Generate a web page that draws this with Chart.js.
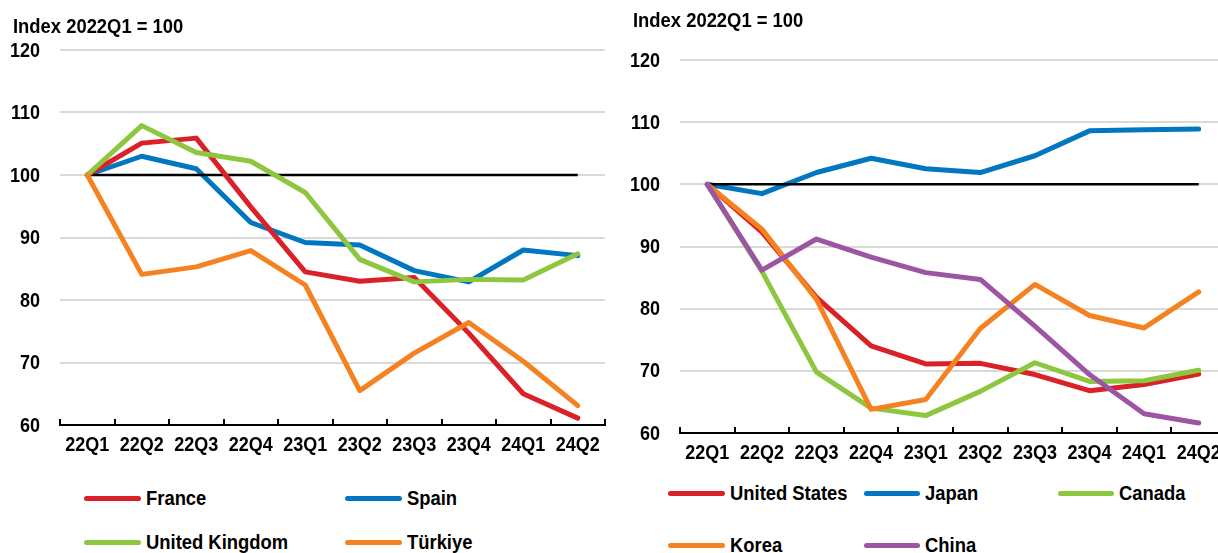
<!DOCTYPE html>
<html><head><meta charset="utf-8">
<script src="https://cdn.jsdelivr.net/npm/chart.js@4.4.1/dist/chart.umd.min.js"></script>
<style>
html,body{margin:0;padding:0;background:#fff;width:1218px;height:553px;overflow:hidden;position:relative;font-family:'Liberation Sans',Arial,sans-serif;font-weight:bold;color:#000}
canvas{position:absolute;top:0}
.t{position:absolute;font-size:20px;white-space:nowrap;line-height:24px;height:24px;transform:scaleX(0.92);transform-origin:0 50%}
.lg{position:absolute;height:5px;border-radius:3px}
</style></head><body>
<canvas id="c1" width="610" height="480" style="left:0px"></canvas>
<canvas id="c2" width="620" height="480" style="left:610px"></canvas>
<div id="ov"></div>
<script>
// ---------- data ----------
const categories = ['22Q1','22Q2','22Q3','22Q4','23Q1','23Q2','23Q3','23Q4','24Q1','24Q2'];
const yTicks = [60, 70, 80, 90, 100, 110, 120];
const baseValue = 100;
const axisTitle = 'Index 2022Q1 = 100';

// left panel
const france  = [100, 105.1, 105.9, 94.9, 84.5, 83.0, 83.6, 74.7, 65.0, 61.1];
const spain   = [100, 103.0, 101.0, 92.4, 89.2, 88.8, 84.7, 82.9, 88.0, 87.1];
const uk      = [100, 107.9, 103.6, 102.2, 97.2, 86.5, 82.9, 83.3, 83.2, 87.4];
const turkiye = [100, 84.1, 85.3, 87.9, 82.4, 65.5, 71.5, 76.4, 70.2, 63.1];

// right panel
const unitedStates = [100, 92.3, 81.8, 74.0, 71.1, 71.2, 69.4, 66.8, 67.8, 69.5];
const japan        = [100, 98.5, 101.9, 104.2, 102.5, 101.9, 104.6, 108.6, 108.8, 108.9];
const canada       = [100, 86.0, 69.8, 64.0, 62.8, 66.7, 71.3, 68.3, 68.4, 70.1];
const korea        = [100, 92.8, 81.5, 63.8, 65.4, 76.8, 83.9, 78.9, 76.9, 82.7];
const china        = [100, 86.2, 91.2, 88.3, 85.8, 84.7, 77.2, 69.4, 63.1, 61.6];

// ---------- styles ----------
const COL = {red:'#DA2128', blue:'#0077C0', green:'#8DC63F', orange:'#F58220', purple:'#9B55A3'};
const FONT = "'Liberation Sans', Arial, sans-serif";
const LABEL_FONT = "bold 20px " + FONT;
const LABEL_SQUEEZE = 0.9;
Chart.defaults.font.family = FONT;
Chart.defaults.font.weight = 'bold';
Chart.defaults.color = '#000';

function series(label, data, color, order){
  return {label, data, borderColor: color, backgroundColor: color, borderWidth: 5,
    pointRadius: 0, pointHoverRadius: 0, borderCapStyle: 'round', borderJoinStyle: 'round',
    tension: 0, order, fill: false};
}
function baseLine(order){
  return {label: '_base', data: categories.map(() => baseValue), borderColor: '#000',
    borderWidth: 2.5, pointRadius: 0, borderCapStyle: 'butt', order, fill: false};
}

// inward tick marks on the category axis + condensed tick labels placed by the scales
const axisDecor = {
  id: 'axisDecor',
  afterDraw(chart){
    const xs = chart.scales.x, ys = chart.scales.y, ctx = chart.ctx;
    const n = chart.data.labels.length;
    ctx.save();
    ctx.strokeStyle = '#000'; ctx.lineWidth = 2;
    for (let i = 0; i <= n; i++){
      const x = Math.round(xs.left + i * xs.width / n);
      ctx.beginPath(); ctx.moveTo(x, xs.top + 1); ctx.lineTo(x, xs.top - 6); ctx.stroke();
    }
    ctx.fillStyle = '#000'; ctx.font = LABEL_FONT; ctx.textBaseline = 'middle';
    ctx.textAlign = 'center';
    chart.data.labels.forEach((lab, i) => {
      ctx.save(); ctx.translate(xs.getPixelForValue(i), xs.top + 20);
      ctx.scale(LABEL_SQUEEZE, 1); ctx.fillText(lab, 0, 0); ctx.restore();
    });
    ctx.textAlign = 'right';
    ys.ticks.forEach(t => {
      ctx.save(); ctx.translate(ys.right - 20, ys.getPixelForValue(t.value) + 1);
      ctx.scale(LABEL_SQUEEZE, 1); ctx.fillText(String(t.value), 0, 0); ctx.restore();
    });
    ctx.restore();
  }
};

function makeChart(id, datasets, yAxisWidth, xAxisHeight, pad){
  return new Chart(document.getElementById(id), {
    type: 'line',
    data: {labels: categories, datasets},
    plugins: [axisDecor],
    options: {
      responsive: false, animation: false, devicePixelRatio: 1,
      layout: {padding: pad},
      plugins: {legend: {display: false}, tooltip: {enabled: false}, title: {display: false}},
      scales: {
        x: {
          type: 'category', offset: true,
          grid: {display: false, drawTicks: false},
          border: {display: true, color: '#000', width: 2},
          ticks: {display: false},
          afterFit(s){ s.height = xAxisHeight; }
        },
        y: {
          min: yTicks[0], max: yTicks[yTicks.length - 1],
          afterBuildTicks(s){ s.ticks = yTicks.map(v => ({value: v})); },
          grid: {color: '#D9D9D9', lineWidth: 2, drawTicks: false},
          border: {display: false},
          ticks: {display: false},
          afterFit(s){ s.width = yAxisWidth; }
        }
      }
    }
  });
}

const leftSets = [
  series('France', france, COL.red, 2),
  series('Spain', spain, COL.blue, 4),
  series('United Kingdom', uk, COL.green, 1),
  series('Türkiye', turkiye, COL.orange, 0),
  baseLine(3)
];
const rightSets = [
  series('United States', unitedStates, COL.red, 3),
  series('Japan', japan, COL.blue, 5),
  series('Canada', canada, COL.green, 2),
  series('Korea', korea, COL.orange, 1),
  series('China', china, COL.purple, 0),
  baseLine(4)
];

makeChart('c1', leftSets, 60, 55, {top: 50, right: 5, left: 0, bottom: 0});
makeChart('c2', rightSets, 70, 47, {top: 60, right: 4, left: 0, bottom: 0});

// ---------- titles & legends (HTML) ----------
const ov = document.getElementById('ov');
function text(str, x, yc){
  const d = document.createElement('div'); d.className = 't';
  d.textContent = str; d.style.left = x + 'px'; d.style.top = (yc - 12) + 'px';
  ov.appendChild(d);
}
function legendItem(ds, x1, x2, tx, yc){
  const l = document.createElement('div'); l.className = 'lg';
  l.style.left = x1 + 'px'; l.style.width = (x2 - x1) + 'px'; l.style.top = (yc - 2.5) + 'px';
  l.style.background = ds.borderColor; ov.appendChild(l);
  text(ds.label, tx, yc);
}
text(axisTitle, 13, 26);
text(axisTitle, 633, 20);

const leftLegendSlots = [[84,141,146,498],[345,402,407,498],[84,141,146,542],[345,402,407,542]];
leftSets.filter(d => d.label !== '_base').forEach((d, i) => legendItem(d, ...leftLegendSlots[i]));
const rightLegendSlots = [[668,725,730,493],[864,920,925,493],[1058,1114,1119,493],[668,725,730,545],[864,920,925,545]];
rightSets.filter(d => d.label !== '_base').forEach((d, i) => legendItem(d, ...rightLegendSlots[i]));
</script>
</body></html>
